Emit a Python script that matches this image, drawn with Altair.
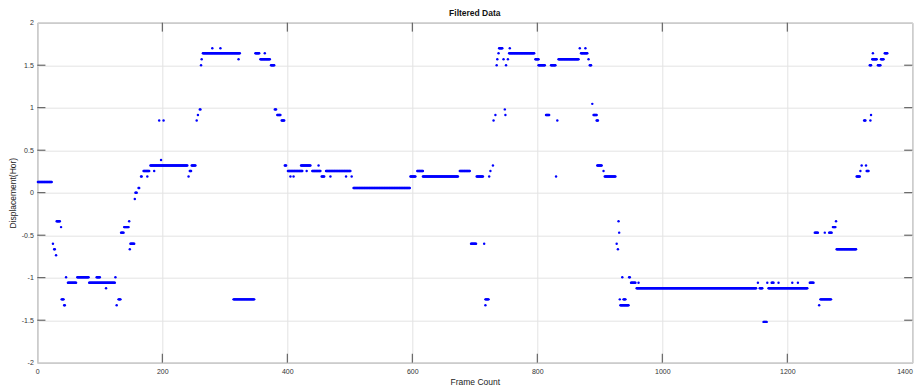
import altair as alt
import pandas as pd

# Run-length description of the scatter:
# every frame from run_start to run_end (inclusive) has the value run_value.
run_start = [1, 25, 27, 30, 31, 38, 39, 43, 46, 49, 64, 83, 95, 110, 125, 127, 130, 134, 139, 147,
             148, 149, 156, 157, 162, 166, 170, 176, 181, 187, 195, 198, 202, 242, 244, 247, 255, 257, 260, 262,
             263, 265, 280, 293, 322, 314, 349, 357, 364, 374, 380, 384, 391, 396, 401, 405, 410, 422, 431, 440,
             450, 455, 462, 469, 494, 503, 506, 597, 608, 617, 676, 694, 703, 715, 717, 717, 723, 725, 729, 730,
             733, 735, 736, 738, 739, 746, 748, 749, 750, 753, 755, 756, 797, 802, 814, 822, 830, 832, 834, 868,
             870, 877, 882, 884, 888, 890, 895, 896, 906, 908, 927, 929, 930, 931, 932, 933, 936, 938, 947, 950,
             959, 962, 1153, 1156, 1162, 1168, 1170, 1175, 1186, 1208, 1217, 1236, 1244, 1251, 1253, 1260, 1267, 1273, 1278, 1279,
             1311, 1317, 1319, 1323, 1326, 1327, 1332, 1333, 1334, 1336, 1337, 1345, 1350, 1356]
run_end = [23, 25, 28, 30, 36, 38, 42, 44, 46, 62, 82, 124, 100, 110, 125, 127, 133, 138, 146, 147,
           148, 155, 156, 159, 163, 167, 179, 176, 240, 187, 195, 198, 202, 242, 246, 253, 255, 257, 261, 262,
           263, 324, 280, 293, 322, 347, 355, 372, 364, 379, 382, 389, 395, 398, 424, 405, 410, 437, 431, 453,
           450, 459, 501, 469, 494, 503, 596, 605, 617, 673, 692, 702, 713, 715, 717, 722, 723, 725, 729, 730,
           733, 735, 736, 738, 744, 746, 748, 749, 750, 753, 795, 756, 802, 812, 819, 829, 830, 832, 866, 868,
           880, 877, 882, 886, 888, 895, 897, 903, 906, 925, 927, 929, 930, 931, 932, 946, 936, 941, 948, 957,
           1150, 962, 1153, 1160, 1167, 1168, 1232, 1178, 1186, 1208, 1217, 1242, 1249, 1251, 1270, 1260, 1271, 1277, 1278, 1310,
           1316, 1317, 1319, 1325, 1326, 1330, 1334, 1333, 1334, 1343, 1337, 1349, 1354, 1360]
run_value = [0.125, -0.60, -0.665, -0.735, -0.335, -0.405, -1.255, -1.325, -0.995, -1.06, -0.995, -1.06, -0.995, -1.125, -0.995, -1.325, -1.255, -0.47, -0.405, -0.335,
             -0.665, -0.60, -0.075, 0.0, 0.055, 0.19, 0.255, 0.19, 0.32, 0.255, 0.85, 0.385, 0.85, 0.19, 0.255, 0.32, 0.85, 0.915, 0.98, 1.50,
             1.57, 1.64, 1.70, 1.70, 1.57, -1.255, 1.64, 1.57, 1.64, 1.50, 0.98, 0.915, 0.85, 0.32, 0.255, 0.19, 0.19, 0.32, 0.255, 0.255,
             0.32, 0.19, 0.255, 0.19, 0.19, 0.19, 0.055, 0.19, 0.255, 0.19, 0.255, -0.60, 0.19, -0.60, -1.325, -1.255, 0.19, 0.255, 0.32, 0.85,
             0.915, 1.50, 1.57, 1.64, 1.70, 1.57, 0.98, 0.915, 1.50, 1.57, 1.64, 1.70, 1.57, 1.50, 0.915, 1.50, 0.19, 0.85, 1.57, 1.70,
             1.64, 1.70, 1.57, 1.50, 1.045, 0.915, 0.85, 0.32, 0.255, 0.19, -0.60, -0.665, -0.335, -0.47, -1.255, -1.325, -0.995, -1.255, -0.995, -1.06,
             -1.125, -1.06, -1.06, -1.125, -1.52, -1.06, -1.125, -1.06, -1.06, -1.06, -1.06, -1.06, -0.47, -1.325, -1.255, -0.47, -0.47, -0.405, -0.335, -0.665,
             0.19, 0.255, 0.32, 0.85, 0.32, 0.255, 1.50, 0.85, 0.915, 1.57, 1.64, 1.50, 1.57, 1.64]

x_ticks = [0, 200, 400, 600, 800, 1000, 1200, 1400]
y_ticks = [-2, -1.5, -1, -0.5, 0, 0.5, 1, 1.5, 2]

frames, values = [], []
for s, e, v in zip(run_start, run_end, run_value):
    for f in range(s, e + 1):
        frames.append(f)
        values.append(v)
df = pd.DataFrame({"frame": frames, "disp": values})

# inward tick marks (MATLAB box style)
XMIN, XMAX, YMIN, YMAX = 0, 1400, -2, 2
tx_len = 0.105   # vertical tick length in data units
ty_len = 13.0    # horizontal tick length in data units
tick_rows = []
for t in x_ticks[1:-1]:
    tick_rows.append({"frame": t, "x2": t, "disp": YMIN, "y2": YMIN + tx_len})
    tick_rows.append({"frame": t, "x2": t, "disp": YMAX, "y2": YMAX - tx_len})
for t in y_ticks[1:-1]:
    tick_rows.append({"frame": XMIN, "x2": XMIN + ty_len, "disp": t, "y2": t})
    tick_rows.append({"frame": XMAX, "x2": XMAX - ty_len, "disp": t, "y2": t})
ticks_df = pd.DataFrame(tick_rows)

xscale = alt.Scale(domain=[XMIN, XMAX], nice=False, zero=False)
yscale = alt.Scale(domain=[YMIN, YMAX], nice=False, zero=False)

FONT = "Liberation Sans"

x_axis = alt.Axis(values=x_ticks, title="Frame Count", labelPadding=5, titlePadding=3,
                  labelFlush=False, labelOverlap=False, labelBound=False,
                  labelAlign={"expr": "datum.value >= %d ? 'right' : 'center'" % XMAX},
                  labelExpr="toString(datum.value)")
y_axis = alt.Axis(values=y_ticks, title="Displacement(Hor)", labelPadding=4, titlePadding=4,
                  labelFlush=False, labelOverlap=False, labelBound=False,
                  labelExpr="toString(datum.value)")

points = alt.Chart(df).mark_circle(size=6, color="#0000ff", opacity=1).encode(
    x=alt.X("frame:Q", scale=xscale, axis=x_axis),
    y=alt.Y("disp:Q", scale=yscale, axis=y_axis),
)

ticks = alt.Chart(ticks_df).mark_rule(color="#4a4a4a", strokeWidth=1).encode(
    x=alt.X("frame:Q", scale=xscale, axis=x_axis),
    x2="x2:Q",
    y=alt.Y("disp:Q", scale=yscale, axis=y_axis),
    y2="y2:Q",
)

chart = alt.layer(points, ticks).properties(
    width=875,
    height=340,
    autosize=alt.AutoSizeParams(type="none"),
    padding={"left": 29.3, "top": 14.7, "right": 1.5, "bottom": 25},
    title=alt.TitleParams("Filtered Data", font=FONT, fontSize=8.5, fontWeight="bold",
                          color="#111111", offset=1, frame="group"),
).configure_view(
    stroke="#6a6a6a", strokeWidth=1
).configure_axis(
    domain=False, grid=True, gridColor="#e3e3e3", gridWidth=1, ticks=False, tickSize=0,
    labelFont=FONT, labelFontSize=7, labelColor="#333333",
    titleFont=FONT, titleFontSize=8.5, titleFontWeight="normal", titleColor="#222222",
)

chart.save("out.html", embed_options={"renderer": "svg", "actions": False})
